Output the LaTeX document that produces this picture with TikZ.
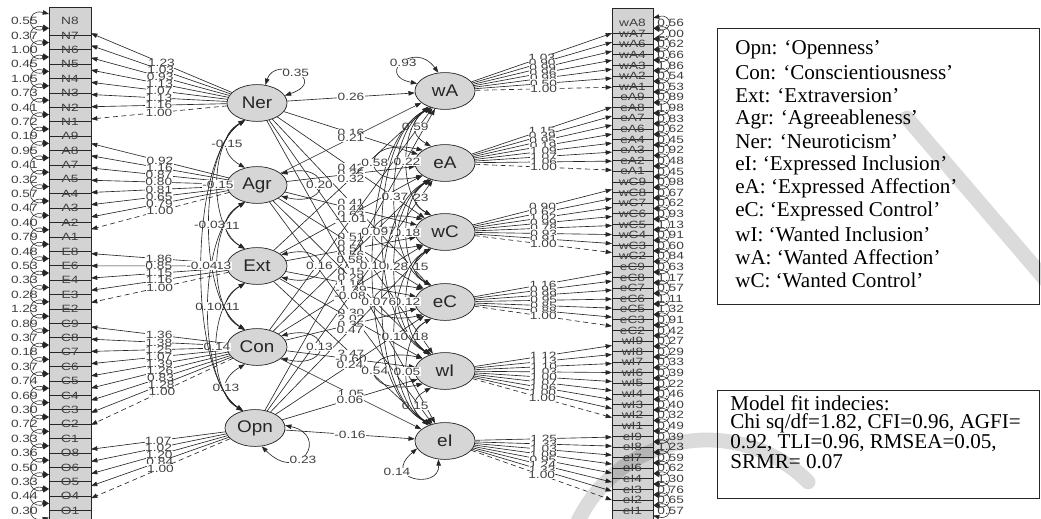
\documentclass[tikz,border=0pt]{standalone}
\usepackage{graphicx}
\usepackage{fontspec}
\setmainfont{Liberation Serif}
\setsansfont{Liberation Sans}
\usetikzlibrary{arrows.meta,shapes.geometric}
\definecolor{boxgray}{HTML}{D3D3D3}
\definecolor{latgray}{HTML}{D6D6D6}
\definecolor{ink}{HTML}{262626}
\definecolor{numc}{HTML}{404040}
\newcommand\sq[1]{\scalebox{1.3}[1]{#1}}
\newcommand\sqb[1]{\scalebox{1.12}[1]{#1}}
\tikzset{
  hd/.tip={Triangle[length=4.5pt,width=3.2pt]},
  loadarr/.style={-hd, draw=ink, line width=0.45pt},
  regarr/.style={-hd, draw=ink, line width=0.45pt},
  covarr/.style={hd-hd, draw=ink, line width=0.45pt},
  resarr/.style={hd-hd, draw=ink, line width=0.4pt},
  fixd/.style={dash pattern=on 3.5pt off 2.5pt},
  numfont/.style={font=\sffamily\fontsize{7.5}{7.5}\selectfont, text=numc},
  elab/.style={numfont, fill=white, inner sep=0.2pt, pos=0.5},
  freelab/.style={numfont, fill=white, inner sep=0.2pt},
  lat/.style={ellipse, draw=ink, fill=latgray, line width=0.5pt, minimum width=1.5cm, minimum height=0.92cm, inner sep=0pt, font=\sffamily\fontsize{12}{12}\selectfont, text=ink},
  indtxt/.style={numfont, inner sep=0pt},
  vartxt/.style={numfont, inner sep=0pt},
  legtxt/.style={font=\fontsize{15}{16}\selectfont, anchor=west, inner sep=0pt, text=black},
  legbox/.style={draw=ink, line width=0.6pt},
  sep/.style={draw=ink, line width=0.45pt},
  wmark/.style={draw=black, draw opacity=0.14, line width=0.37cm, line cap=round},
}
\begin{document}
\begin{tikzpicture}[x=0.025cm,y=-0.025cm]
\useasboundingbox (0,0) rectangle (1041,519);
\fill[white] (0,0) rectangle (1041,519);

% ---------- latent variables ----------
\node[lat] (Ner) at (257,103) {\sqb{Ner}};
\node[lat] (Agr) at (257,185) {\sqb{Agr}};
\node[lat] (Ext) at (257,266) {\sqb{Ext}};
\node[lat] (Con) at (257,347) {\sqb{Con}};
\node[lat] (Opn) at (255,428) {\sqb{Opn}};
\node[lat] (wA) at (445,91) {\sqb{wA}};
\node[lat] (eA) at (445,163) {\sqb{eA}};
\node[lat] (wC) at (445,232) {\sqb{wC}};
\node[lat] (eC) at (445,302) {\sqb{eC}};
\node[lat] (wI) at (445,371) {\sqb{wI}};
\node[lat] (eI) at (445,441) {\sqb{eI}};

% ---------- left indicator column ----------
\draw[fill=boxgray, draw=ink, line width=0.5pt] (49,7) rectangle (91,530);
\foreach \n/\v/\ly [count=\i from 0] in {
  N8/0.55/103,N7/0.37/103,N6/1.00/103,N5/0.45/103,N4/1.05/103,N3/0.73/103,N2/0.41/103,N1/0.72/103,
  A9/0.19/185,A8/0.95/185,A7/0.41/185,A5/0.32/185,A4/0.57/185,A3/0.47/185,A2/0.40/185,A1/0.79/185,
  E8/0.48/266,E6/0.53/266,E4/0.33/266,E3/0.28/266,E2/1.23/266,
  C9/0.89/347,C8/0.37/347,C7/0.18/347,C6/0.37/347,C5/0.74/347,C4/0.69/347,C3/0.30/347,C2/0.72/347,C1/0.33/347,
  O8/0.36/428,O6/0.50/428,O5/0.33/428,O4/0.44/428,O1/0.30/428}{
  \pgfmathsetmacro\yy{21+14.4*\i}
  \pgfmathsetmacro\ty{\yy+0.15*(\ly-\yy)}
  \ifnum\i>0 \draw[sep] (49,\yy) -- (91,\yy); \fi
  \node[indtxt] (\n) at (70,\yy) {\sq{\n}};
  \coordinate (t\n) at (91,\ty);
  \node[vartxt, anchor=east] at (38,\yy) {\sq{\v}};
  \draw[resarr] (49,\yy-7) .. controls (26,\yy-13) and (26,\yy+13) .. (49,\yy+7);
}

% ---------- right indicator column ----------
\draw[fill=boxgray, draw=ink, line width=0.5pt] (612,8) rectangle (653,530);
\foreach \n/\v/\ly [count=\i from 0] in {
  wA8/0.56/91,wA7/2.00/91,wA6/0.62/91,wA4/0.66/91,wA3/1.86/91,wA2/0.54/91,wA1/0.53/91,
  eA9/0.89/163,eA8/1.98/163,eA7/0.83/163,eA6/0.62/163,eA4/0.45/163,eA3/0.92/163,eA2/0.48/163,eA1/0.45/163,
  wC9/0.98/232,wC8/0.67/232,wC7/0.62/232,wC6/0.93/232,wC5/1.13/232,wC4/0.91/232,wC3/0.60/232,wC2/0.84/232,
  eC9/0.63/302,eC8/1.17/302,eC7/0.57/302,eC6/1.11/302,eC5/1.32/302,eC3/0.91/302,eC2/0.42/302,
  wI9/0.27/371,wI8/0.29/371,wI7/0.33/371,wI6/0.39/371,wI5/0.22/371,wI4/0.46/371,wI3/0.40/371,wI2/0.32/371,wI1/0.49/371,
  eI9/0.39/441,eI8/1.23/441,eI7/0.59/441,eI6/0.62/441,eI4/1.30/441,eI3/0.76/441,eI2/0.65/441,eI1/0.57/441}{
  \pgfmathsetmacro\yy{23+10.6*\i}
  \pgfmathsetmacro\ty{\yy+0.15*(\ly-\yy)}
  \ifnum\i>0 \draw[sep] (612,\yy) -- (653,\yy); \fi
  \node[indtxt] (\n) at (632.5,\yy) {\sq{\n}};
  \coordinate (t\n) at (612,\ty);
  \node[vartxt, anchor=west] at (657,\yy) {\sq{\v}};
  \draw[resarr] (653,\yy-5) .. controls (673,\yy-10) and (673,\yy+10) .. (653,\yy+5);
}

% ---------- factor loadings, personality side ----------
\foreach \n/\l in {N8/1.23,N7/1.03,N6/0.93,N5/1.13,N4/1.07,N3/1.13,N2/1.16}
  \draw[loadarr] (Ner) -- (t\n) node[elab]{\sq{\l}};
\draw[loadarr,fixd] (Ner) -- (tN1) node[elab]{\sq{1.00}};
\foreach \n/\l in {A9/0.92,A8/1.16,A7/0.87,A5/0.80,A4/0.81,A3/0.65,A2/0.79}
  \draw[loadarr] (Agr) -- (t\n) node[elab]{\sq{\l}};
\draw[loadarr,fixd] (Agr) -- (tA1) node[elab]{\sq{1.00}};
\foreach \n/\l in {E8/1.86,E6/0.85,E4/1.15,E3/1.16}
  \draw[loadarr] (Ext) -- (t\n) node[elab]{\sq{\l}};
\draw[loadarr,fixd] (Ext) -- (tE2) node[elab]{\sq{1.00}};
\foreach \n/\l in {C9/1.36,C8/1.38,C7/1.25,C6/1.07,C5/1.39,C4/1.26,C3/0.83,C2/1.28}
  \draw[loadarr] (Con) -- (t\n) node[elab]{\sq{\l}};
\draw[loadarr,fixd] (Con) -- (tC1) node[elab]{\sq{1.00}};
\foreach \n/\l in {O8/1.07,O6/1.02,O5/1.20,O4/0.84}
  \draw[loadarr] (Opn) -- (t\n) node[elab]{\sq{\l}};
\draw[loadarr,fixd] (Opn) -- (tO1) node[elab]{\sq{1.00}};

% ---------- factor loadings, FIRO side ----------
\foreach \n/\l in {wA8/1.03,wA7/0.90,wA6/0.99,wA4/0.96,wA3/0.98,wA2/0.50}
  \draw[loadarr] (wA) -- (t\n) node[elab]{\sq{\l}};
\draw[loadarr,fixd] (wA) -- (twA1) node[elab]{\sq{1.00}};
\foreach \n/\l in {eA9/1.15,eA8/0.39,eA7/0.95,eA6/0.19,eA4/1.09,eA3/1.07,eA2/1.06}
  \draw[loadarr] (eA) -- (t\n) node[elab]{\sq{\l}};
\draw[loadarr,fixd] (eA) -- (teA1) node[elab]{\sq{1.00}};
\foreach \n/\l in {wC9/0.90,wC8/0.62,wC7/1.02,wC6/0.99,wC5/0.78,wC4/0.93,wC3/0.91}
  \draw[loadarr] (wC) -- (t\n) node[elab]{\sq{\l}};
\draw[loadarr,fixd] (wC) -- (twC2) node[elab]{\sq{1.00}};
\foreach \n/\l in {eC9/1.16,eC8/0.95,eC7/0.99,eC6/0.95,eC5/0.85,eC3/0.88}
  \draw[loadarr] (eC) -- (t\n) node[elab]{\sq{\l}};
\draw[loadarr,fixd] (eC) -- (teC2) node[elab]{\sq{1.00}};
\foreach \n/\l in {wI9/1.12,wI8/1.13,wI7/1.10,wI6/1.03,wI5/1.00,wI4/1.07,wI3/1.06,wI2/1.00}
  \draw[loadarr] (wI) -- (t\n) node[elab]{\sq{\l}};
\draw[loadarr,fixd] (wI) -- (twI1) node[elab]{\sq{1.00}};
\foreach \n/\l in {eI9/1.25,eI8/1.33,eI7/1.03,eI6/1.09,eI4/0.95,eI3/1.24,eI2/1.33}
  \draw[loadarr] (eI) -- (t\n) node[elab]{\sq{\l}};
\draw[loadarr,fixd] (eI) -- (teI1) node[elab]{\sq{1.00}};

% ---------- structural paths ----------
\foreach \a/\b/\l in {
  Ner/wA/0.26,Ner/eA/0.16,Agr/wA/0.21,Ner/wC/0.42,Agr/eA/0.35,Ext/wA/0.32,
  Ner/eC/0.41,Agr/wC/0.43,Ext/eA/0.63,Con/wA/-1.01,Ner/wI/0.51,Agr/eC/0.72,
  Ext/wC/0.51,Con/eA/0.56,Opn/wA/0.58,Ner/eI/0.15,Agr/wI/0.29,Ext/eC/1.10,
  Con/wC/-1.39,Opn/eA/-0.08,Agr/eI/0.30,Ext/wI/2.02,Con/eC/0.35,Opn/wC/0.47,
  Ext/eI/2.47,Con/wI/-0.60,Opn/eC/0.24,Con/eI/1.05,Opn/wI/0.06,Opn/eI/-0.16}
  \draw[regarr] (\a) -- (\b) node[elab]{\sq{\l}};

% ---------- covariances among personality factors ----------
\foreach \a/\b/\dx/\dy/\l in {
  Ner/Agr/-24/14/-0.15, Agr/Ext/-24/14/0.11, Ext/Con/-24/14/0.11, Con/Opn/-24/14/0.13,
  Ner/Ext/-36/22/-0.15, Agr/Con/-36/22/0.13, Ext/Opn/-36/22/0.14,
  Ner/Con/-47/30/-0.03, Agr/Opn/-47/30/0.10,
  Ner/Opn/-56/38/-0.04}
  \draw[covarr] (\a.235) .. controls +(\dx,\dy) and +(\dx,-\dy) .. (\b.125) node[elab]{\sq{\l}};

% ---------- covariances among FIRO factors ----------
\foreach \a/\b/\dx/\dy/\l in {
  wA/eA/-21/12/0.59, eA/wC/-21/12/0.23, wC/eC/-21/12/0.15, eC/wI/-21/12/0.18, wI/eI/-21/12/0.15,
  wA/wC/-32/18/0.22, eA/eC/-32/18/0.18, wC/wI/-32/18/0.12, eC/eI/-32/18/0.05,
  wA/eC/-48/24/0.37, eA/wI/-48/24/0.28, wC/eI/-48/24/0.10,
  wA/wI/-64/30/0.07, eA/eI/-64/30/0.06,
  wA/eI/-77/36/0.10}
  \draw[covarr] (\a.230) .. controls +(\dx,\dy) and +(\dx,-\dy) .. (\b.130) node[elab]{\sq{\l}};

% ---------- latent variances ----------
\draw[covarr] (Ner.65) .. controls (275,55) and (330,80) .. (Ner.15) node[elab]{\sq{0.35}};
\foreach \f/\v in {Agr/0.20, Ext/0.16, Con/0.13}
  \draw[covarr] (\f.25) .. controls +(51,-12) and +(51,12) .. (\f.-25) node[elab]{\sq{\v}};
\draw[covarr] (Opn.5) .. controls (330,435) and (300,485) .. (Opn.290);
\node[freelab] at (303,460) {\sq{0.23}};
\draw[covarr] (wA.165) .. controls (375,75) and (415,40) .. (wA.110) node[elab]{\sq{0.93}};
\foreach \f/\v in {eA/0.58, wC/0.09, eC/0.07, wI/0.54}
  \draw[covarr] (\f.150) .. controls +(-64,-14) and +(-64,14) .. (\f.210) node[elab]{\sq{\v}};
\draw[covarr] (eI.250) .. controls (440,490) and (380,480) .. (eI.195);
\node[freelab] at (397,472) {\sq{0.14}};

% ---------- legend ----------
\draw[legbox] (717,28) rectangle (1039,304);
\foreach \t [count=\k from 0] in {
  Opn: ‘Openness’, Con: ‘Conscientiousness’, Ext: ‘Extraversion’,
  Agr: ‘Agreeableness’, Ner: ‘Neuroticism’, eI: ‘Expressed Inclusion’,
  eA: ‘Expressed Affection’, eC: ‘Expressed Control’, wI: ‘Wanted Inclusion’,
  wA: ‘Wanted Affection’, wC: ‘Wanted Control’}
  \node[legtxt] at (735,50+23*\k) {\t};

\draw[legbox] (717,390) rectangle (1039,498);
\node[legtxt] at (730,403) {Model fit indecies:};
\node[legtxt] at (730,423) {Chi sq/df=1.82, CFI=0.96, AGFI=};
\node[legtxt] at (730,443) {0.92, TLI=0.96, RMSEA=0.05,};
\node[legtxt] at (730,462) {SRMR= 0.07};

% ---------- light watermark strokes laid over the page ----------
\draw[wmark] (707,583) ++(200:143) arc[start angle=200, end angle=315, radius=143];
\draw[wmark] (907,118) -- (1050,285);
\end{tikzpicture}
\end{document}
